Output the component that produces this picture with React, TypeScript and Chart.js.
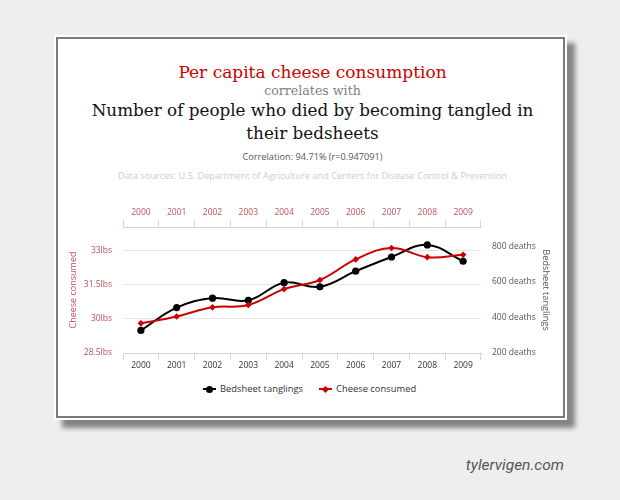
import React, { useEffect, useRef } from "react";
import { Chart, registerables } from "chart.js";

Chart.register(...registerables);

const years = ["2000", "2001", "2002", "2003", "2004", "2005", "2006", "2007", "2008", "2009"];
const bedsheetTanglings = [327, 456, 509, 497, 596, 573, 661, 741, 809, 717];
const cheeseConsumed = [29.8, 30.1, 30.5, 30.6, 31.3, 31.7, 32.6, 33.1, 32.7, 32.8];
const cheeseTicks = [28.5, 30, 31.5, 33];
const deathTicks = [200, 400, 600, 800];

const RED = "#cc0000";
const AXIS_RED = "#c0505a";
const TICK_BLUE = "#ccd6eb";
const SANS = '"Open Sans", sans-serif';
const SERIF = '"DejaVu Serif", serif';

export default function App() {
  const ref = useRef<HTMLCanvasElement | null>(null);

  useEffect(() => {
    if (!ref.current) return;
    const xGrid = {
      offset: true,
      drawOnChartArea: false,
      drawTicks: true,
      tickLength: 7,
      color: TICK_BLUE,
      lineWidth: 1,
    };
    const chart = new Chart(ref.current, {
      type: "line",
      data: {
        labels: years,
        datasets: [
          {
            label: "Cheese consumed",
            data: cheeseConsumed,
            yAxisID: "yL",
            xAxisID: "x",
            borderColor: RED,
            backgroundColor: RED,
            borderWidth: 2,
            tension: 0.4,
            pointStyle: "rectRot",
            pointRadius: 3.3,
            pointBorderWidth: 0,
            pointBackgroundColor: RED,
            fill: false,
          },
          {
            label: "Bedsheet tanglings",
            data: bedsheetTanglings,
            yAxisID: "yR",
            xAxisID: "x",
            borderColor: "#000000",
            backgroundColor: "#000000",
            borderWidth: 2,
            tension: 0.4,
            pointStyle: "circle",
            pointRadius: 3.6,
            pointBorderWidth: 0,
            pointBackgroundColor: "#000000",
            fill: false,
          },
        ],
      },
      options: {
        responsive: false,
        animation: false,
        layout: { padding: 0 },
        plugins: {
          legend: { display: false },
          tooltip: { enabled: false },
        },
        scales: {
          x: {
            type: "category",
            position: "bottom",
            offset: true,
            grid: xGrid,
            border: { display: true, color: TICK_BLUE, width: 1 },
            ticks: {
              color: "#333333",
              font: { family: SANS, size: 8.5 },
              padding: 0,
              maxRotation: 0,
              autoSkip: false,
            },
            afterFit: (s: any) => {
              s.height = 23;
            },
          },
          xTop: {
            type: "category",
            position: "top",
            labels: years,
            offset: true,
            grid: xGrid,
            border: { display: true, color: TICK_BLUE, width: 1 },
            ticks: {
              color: AXIS_RED,
              font: { family: SANS, size: 8.5 },
              padding: 2,
              maxRotation: 0,
              autoSkip: false,
            },
            afterFit: (s: any) => {
              s.height = 31;
            },
          },
          yL: {
            type: "linear",
            position: "left",
            min: 28.5,
            max: 34.02,
            afterBuildTicks: (s: any) => {
              s.ticks = cheeseTicks.map((v) => ({ value: v }));
            },
            ticks: {
              color: AXIS_RED,
              font: { family: SANS, size: 8.5 },
              padding: 11,
              callback: (v: any) => `${v}lbs`,
            },
            grid: { color: "#e6e6e6", drawTicks: false, lineWidth: 1 },
            border: { display: false },
            title: {
              display: true,
              text: "Cheese consumed",
              color: AXIS_RED,
              font: { family: SANS, size: 9 },
              padding: { top: 10.6, bottom: 0 },
            },
            afterFit: (s: any) => {
              s.width = 66;
            },
          },
          yR: {
            type: "linear",
            position: "right",
            min: 200,
            max: 910,
            afterBuildTicks: (s: any) => {
              s.ticks = deathTicks.map((v) => ({ value: v }));
            },
            ticks: {
              color: "#555555",
              font: { family: SANS, size: 8.5 },
              padding: 11,
              callback: (v: any) => `${v} deaths`,
            },
            grid: { display: false, drawTicks: false },
            border: { display: false },
            title: {
              display: true,
              text: "Bedsheet tanglings",
              color: "#555555",
              font: { family: SANS, size: 9.2 },
              padding: { top: 11.5, bottom: 0 },
            },
            afterFit: (s: any) => {
              s.width = 82;
            },
          },
        },
      },
    } as any);
    return () => chart.destroy();
  }, []);

  const centered = (top: number, extra: React.CSSProperties, text: string) => (
    <div
      style={{
        position: "absolute",
        left: 0,
        width: 625,
        top,
        textAlign: "center",
        whiteSpace: "nowrap",
        ...extra,
      }}
    >
      {text}
    </div>
  );

  return (
    <div
      style={{
        position: "fixed",
        left: 0,
        top: 0,
        width: 620,
        height: 500,
        background: "#eeeeee",
        overflow: "hidden",
        fontFamily: SANS,
      }}
    >
      <div
        style={{
          position: "absolute",
          left: 54,
          top: 35,
          width: 513,
          height: 385,
          background: "#ffffff",
          boxShadow: "8px 8px 5px rgba(0,0,0,0.45)",
        }}
      />
      <div
        style={{
          position: "absolute",
          left: 56,
          top: 37,
          width: 509,
          height: 381,
          boxSizing: "border-box",
          border: "2px solid #7a7a7a",
        }}
      />
      {centered(63.2, { fontFamily: SERIF, fontSize: 17, lineHeight: "19.8px", color: RED }, "Per capita cheese consumption")}
      {centered(84, { fontFamily: SERIF, fontSize: 12.6, lineHeight: "14.7px", color: "#808080" }, "correlates with")}
      {centered(101.1, { fontFamily: SERIF, fontSize: 16.8, lineHeight: "19.6px", color: "#111111" }, "Number of people who died by becoming tangled in")}
      {centered(123.7, { fontFamily: SERIF, fontSize: 16.8, lineHeight: "19.6px", color: "#111111" }, "their bedsheets")}
      {centered(151.2, { fontFamily: SANS, fontSize: 9.2, lineHeight: "12.5px", color: "#555555" }, "Correlation: 94.71% (r=0.947091)")}
      {centered(170.2, { fontFamily: SANS, fontSize: 9.2, lineHeight: "12.5px", color: "#cccccc" }, "Data sources: U.S. Department of Agriculture and Centers for Disease Control & Prevention")}
      <canvas
        ref={ref}
        width={506}
        height={180}
        style={{ position: "absolute", left: 57, top: 196, width: 506, height: 180 }}
      />
      {/* legend */}
      <div style={{ position: "absolute", left: 203, top: 388.3, width: 13, height: 2, background: "#000" }} />
      <div style={{ position: "absolute", left: 205.7, top: 385.7, width: 7.2, height: 7.2, borderRadius: "50%", background: "#000" }} />
      <div style={{ position: "absolute", left: 220, top: 382.7, fontSize: 9.4, lineHeight: "12.8px", color: "#333333", whiteSpace: "nowrap" }}>
        Bedsheet tanglings
      </div>
      <div style={{ position: "absolute", left: 318.5, top: 388.3, width: 13, height: 2, background: RED }} />
      <div
        style={{
          position: "absolute",
          left: 322.6,
          top: 386.9,
          width: 4.8,
          height: 4.8,
          background: RED,
          transform: "rotate(45deg)",
        }}
      />
      <div style={{ position: "absolute", left: 336, top: 382.7, fontSize: 9.4, lineHeight: "12.8px", color: "#333333", whiteSpace: "nowrap" }}>
        Cheese consumed
      </div>
      <div
        style={{
          position: "absolute",
          right: 56,
          top: 456.3,
          fontFamily: "Roboto, sans-serif",
          fontStyle: "italic",
          fontSize: 15.5,
          lineHeight: "18.2px",
          color: "#555555",
          whiteSpace: "nowrap",
        }}
      >
        tylervigen.com
      </div>
    </div>
  );
}
